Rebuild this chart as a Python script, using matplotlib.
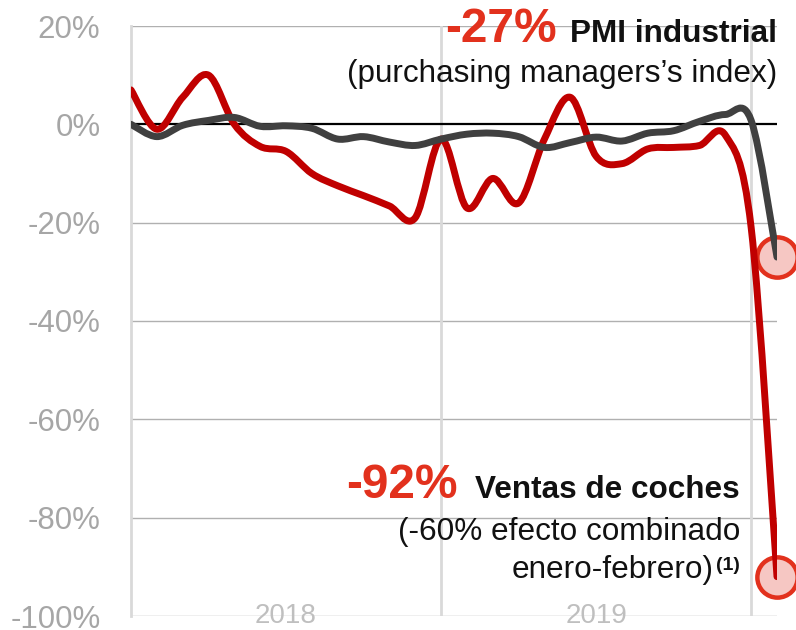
"""
Car sales vs industrial PMI, year-on-year change (2018 - early 2020).
"""

import numpy
import matplotlib
matplotlib.use('Agg')
import matplotlib.pyplot as plt
from matplotlib.path import Path
from matplotlib.patches import PathPatch

# monthly points, Jan 2018 onwards
months = list(range(26))
car_sales = [7, -1, 5.5, 10, 0, -4.5, -5.5, -10, -12.5, -14.5, -16.6, -19,
             -3, -17, -11, -16, -3, 5.5, -6.5, -8, -5, -4.7, -4.3, -2.2, -21, -92]
pmi = [0, -2.5, -0.2, 0.8, 1.4, -0.4, -0.3, -0.8, -3, -2.5, -3.6, -4.3,
       -3, -2, -1.8, -2.5, -4.7, -3.7, -2.6, -3.4, -1.8, -1.3, 0.6, 2.0, 0.8, -27]
y_ticks = [20, 0, -20, -40, -60, -80, -100]
year_labels = ['2018', '2019']
year_centers = [6, 18]
year_starts = [0, 12, 24]

RED = '#c00000'
DARK = '#404040'
ACCENT = '#e2311d'
TICK_GREY = '#a6a6a6'

W, H = 796, 630


def smooth_path(xs, ys):
	"""Excel-style smoothed line: Catmull-Rom turned into cubic Bezier segments."""
	pts = numpy.column_stack([xs, ys]).astype(float)
	n = len(pts)
	verts = [pts[0]]
	codes = [Path.MOVETO]
	for i in range(n - 1):
		p0 = pts[max(i - 1, 0)]
		p1 = pts[i]
		p2 = pts[i + 1]
		p3 = pts[min(i + 2, n - 1)]
		c1 = p1 + (p2 - p0) / 6.0
		c2 = p2 - (p3 - p1) / 6.0
		verts += [c1, c2, p2]
		codes += [Path.CURVE4] * 3
	return Path(verts, codes)


def px(x, y):
	return x / W, 1 - y / H


plt.rcParams['font.family'] = ['Liberation Sans', 'DejaVu Sans']

fig = plt.figure(figsize=(W / 100, H / 100), dpi=100)
ax = fig.add_axes([131 / W, 1 - 616 / H, (777 - 131) / W, (616 - 26) / H])
ax.set_xlim(0, 25)
ax.set_ylim(-100, 20)

for s in ['top', 'right', 'bottom']:
	ax.spines[s].set_visible(False)
ax.spines['left'].set_color('#d9d9d9')
ax.spines['left'].set_linewidth(2)

ax.set_xticks([])
ax.set_yticks(y_ticks)
ax.set_yticklabels([f'{v}%' for v in y_ticks], fontsize=22.5, color=TICK_GREY)
ax.tick_params(axis='y', length=0, pad=22)

for v in y_ticks:
	if v == 0:
		continue
	ax.axhline(v, color='#b0b0b0', linewidth=1, zorder=1)
for x in year_starts[1:]:
	ax.axvline(x, color='#d9d9d9', linewidth=2, zorder=1)
ax.axhline(0, color='black', linewidth=1.6, zorder=2)

for label, xc in zip(year_labels, year_centers):
	ax.text(xc, -100, label, ha='center', va='center', fontsize=20, color='#bfbfbf', zorder=2)

# highlight circles on the last values
for series in (pmi, car_sales):
	ax.plot(months[-1], series[-1], 'o', markersize=29, markerfacecolor='#f6c7c3',
		markeredgecolor=ACCENT, markeredgewidth=3.2, clip_on=False, zorder=3)

for series, color in ((car_sales, RED), (pmi, DARK)):
	patch = PathPatch(smooth_path(months, series), fill=False, edgecolor=color,
		linewidth=5, capstyle='round', joinstyle='round', zorder=4)
	ax.add_patch(patch)

# annotations
fig.text(*px(557, 42), '-27%', ha='right', va='baseline', fontsize=34.5,
	fontweight='bold', color=ACCENT)
fig.text(*px(777, 42), 'PMI industrial', ha='right', va='baseline', fontsize=22.7,
	fontweight='bold', color='#111111')
fig.text(*px(777, 82), '(purchasing managers\u2019s index)', ha='right', va='baseline',
	fontsize=22.7, color='#111111')

fig.text(*px(458, 498), '-92%', ha='right', va='baseline', fontsize=34.5,
	fontweight='bold', color=ACCENT)
fig.text(*px(740, 498), 'Ventas de coches', ha='right', va='baseline', fontsize=22.7,
	fontweight='bold', color='#111111')
fig.text(*px(740, 540), '(-60% efecto combinado', ha='right', va='baseline',
	fontsize=22.7, color='#111111')
fig.text(*px(714, 578), 'enero-febrero)', ha='right', va='baseline',
	fontsize=22.7, color='#111111')
fig.text(*px(740, 570), '(1)', ha='right', va='baseline', fontsize=14,
	fontweight='bold', color='#111111')

fig.savefig('out.png', dpi=100)
plt.close(fig)
